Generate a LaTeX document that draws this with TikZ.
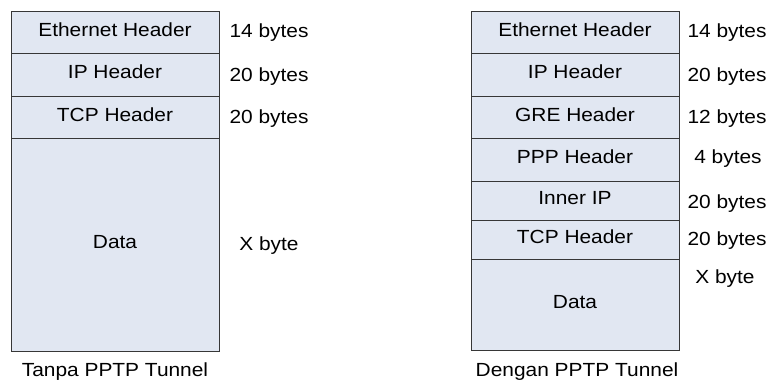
\documentclass[tikz,border=0pt]{standalone}
\usepackage{fontspec}
\setmainfont[FakeStretch=1.1]{Liberation Sans}
\definecolor{rowfill}{RGB}{225,231,242}
\definecolor{rowline}{RGB}{55,55,55}
\tikzset{
  layer/.style={draw=rowline, line width=0.9pt, fill=rowfill, rectangle,
    anchor=north west, minimum width=208pt, inner sep=0pt, outer sep=0pt,
    text height=14pt, text depth=6pt, font=\fontsize{19}{22}\selectfont},
  sizelbl/.style={anchor=base, inner sep=0pt, font=\fontsize{19}{22}\selectfont},
  title/.style={anchor=base, inner sep=0pt, font=\fontsize{19}{22}\selectfont}
}
\begin{document}
\begin{tikzpicture}[x=1pt,y=-1pt]
\useasboundingbox (0,0) rectangle (770,381);
% left stack: Tanpa PPTP Tunnel
\node[layer, minimum height=42pt] (lEth) at (11,11) {Ethernet Header};
\node[layer, minimum height=43pt] (lIP) at (11,53) {IP Header};
\node[layer, minimum height=42pt] (lTCP) at (11,96) {TCP Header};
\node[layer, minimum height=213pt] (lData) at (11,138) {Data};
\node[sizelbl] (lsEth) at (269,37.5) {14 bytes};
\node[sizelbl] (lsIP) at (269,81) {20 bytes};
\node[sizelbl] (lsTCP) at (269,123) {20 bytes};
\node[sizelbl] (lsData) at (269,250) {X byte};
\node[title] (lTitle) at (115,376) {Tanpa PPTP Tunnel};
% right stack: Dengan PPTP Tunnel
\node[layer, minimum height=42pt] (rEth) at (471,11) {Ethernet Header};
\node[layer, minimum height=43pt] (rIP) at (471,53) {IP Header};
\node[layer, minimum height=42pt] (rGRE) at (471,96) {GRE Header};
\node[layer, minimum height=43pt] (rPPP) at (471,138) {PPP Header};
\node[layer, minimum height=39pt] (rInner) at (471,181) {Inner IP};
\node[layer, minimum height=39pt] (rTCP) at (471,220) {TCP Header};
\node[layer, minimum height=91pt] (rData) at (471,259) {Data};
\node[sizelbl] (rsEth) at (727,37) {14 bytes};
\node[sizelbl] (rsIP) at (727,81) {20 bytes};
\node[sizelbl] (rsGRE) at (727,123) {12 bytes};
\node[sizelbl] (rsPPP) at (728,163) {4 bytes};
\node[sizelbl] (rsInner) at (727,208) {20 bytes};
\node[sizelbl] (rsTCP) at (727,245) {20 bytes};
\node[sizelbl] (rsData) at (725,283) {X byte};
\node[title] (rTitle) at (577,376) {Dengan PPTP Tunnel};
\end{tikzpicture}
\end{document}
